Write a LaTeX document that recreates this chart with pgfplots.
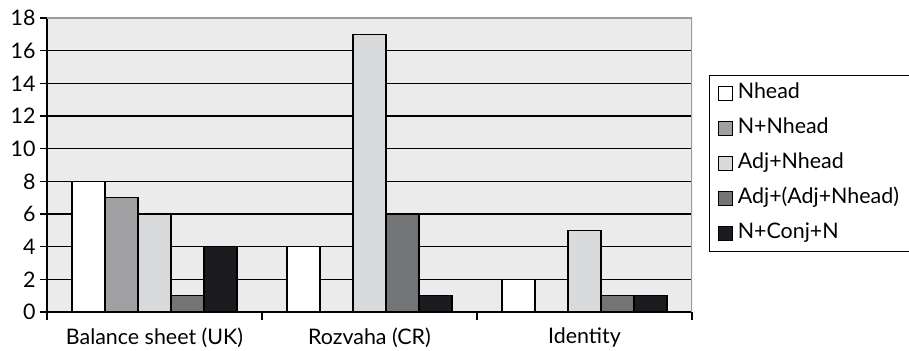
\documentclass[border=0pt]{standalone}
\usepackage{pgfplots}
\pgfplotsset{compat=1.18}
\usepackage{fontspec}
\setmainfont{Lato}
\definecolor{plotbg}{HTML}{EBEBEB}
\definecolor{frameg}{HTML}{9C9C9C}
\definecolor{cNhead}{HTML}{FFFFFF}
\definecolor{cNN}{HTML}{A0A0A2}
\definecolor{cAdjN}{HTML}{D9DADC}
\definecolor{cAdjAdj}{HTML}{737475}
\definecolor{cConj}{HTML}{1C1B1F}
\begin{document}
\begin{tikzpicture}
\begin{axis}[
  at={(0,0)}, anchor=south west,
  scale only axis, width=645bp, height=294bp,
  xmin=-0.5, xmax=2.5, ymin=0, ymax=18,
  ybar=0pt, bar width=33bp,
  axis background/.style={fill=plotbg},
  axis x line*=bottom, axis y line*=left,
  axis line style={black, line width=1.2bp, -},
  ytick={0,2,...,18},
  xtick={0,1,2},
  xticklabels={Balance sheet (UK), Rozvaha (CR), Identity},
  minor xtick={-0.5,0.5,1.5,2.5},
  tick align=outside,
  major tick length=7bp, minor tick length=8bp,
  tick style={black, line width=1.2bp},
  major x tick style={draw=none},
  ymajorgrids, grid style={black, line width=1.2bp},
  /pgf/number format/assume math mode=true,
  tick label style={font=\fontsize{21.5}{25}\selectfont},
  yticklabel style={xshift=-1bp},
  xticklabel style={yshift=-5bp},
  every axis plot/.append style={draw=black, line width=1.3bp,
    legend image code/.code={\draw[##1, line width=1.2bp] (0bp,-7bp) rectangle (14bp,7bp);}},
  legend style={at={(1.0264,0.806)}, anchor=north west, draw=black,
    line width=1.2bp, fill=white, font=\fontsize{21.5}{25}\selectfont,
    inner xsep=8bp, inner ysep=6bp, row sep=11bp,
    nodes={text height=14bp, text depth=5bp, inner ysep=2.5bp, inner xsep=5bp}},
  legend cell align=left,
]
\addplot[fill=cNhead] coordinates {(0,8) (1,4) (2,2)};
\addplot[fill=cNN] coordinates {(0,7)};
\addplot[fill=cAdjN] coordinates {(0,6) (1,17) (2,5)};
\addplot[fill=cAdjAdj] coordinates {(0,1) (1,6) (2,1)};
\addplot[fill=cConj] coordinates {(0,4) (1,1) (2,1)};
\legend{Nhead, N+Nhead, Adj+Nhead, Adj+(Adj+Nhead), N+Conj+N}
\draw[frameg, line width=1.6bp] (rel axis cs:0,1) -- (rel axis cs:1,1) -- (rel axis cs:1,0);
\end{axis}
\pgfresetboundingbox
\path (-47bp,-39bp) rectangle (862bp,312bp);
\end{tikzpicture}
\end{document}
